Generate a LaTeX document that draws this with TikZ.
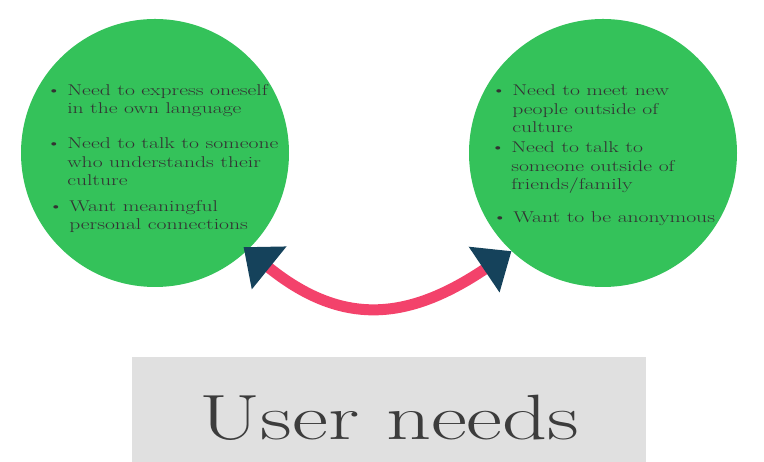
\documentclass[tikz,border=0pt]{standalone}
\usepackage{fontspec}
\usetikzlibrary{arrows.meta}
\definecolor{cgreen}{HTML}{34C25A}
\definecolor{cpink}{HTML}{F3426B}
\definecolor{cnavy}{HTML}{15425B}
\definecolor{cgray}{HTML}{E0E0E0}
\definecolor{ctext}{HTML}{333333}
\definecolor{ctitle}{HTML}{3C3C3C}
\newcommand\itembul{\llap{\textbullet\hspace{4pt}}}
\begin{document}
\begin{tikzpicture}[x=1pt,y=1pt,
  need/.style={circle, fill=cgreen, minimum size=268pt, inner sep=0pt},
  item/.style={anchor=base west, align=left, inner sep=0pt, xscale=1.385, text=ctext, font=\fontsize{15.6}{18.7}\selectfont},
  link/.style={cpink, line width=11pt, {Triangle[length=33pt,width=53pt,color=cnavy]}-{Triangle[length=33pt,width=53pt,color=cnavy]}},
]
\useasboundingbox (0,0) rectangle (764,462);
\node[need] (L) at (155,309) {};
\node[need] (R) at (603,309) {};
\node[item] (l1) at (67,348) {\itembul Need to express oneself\\in the own language};
\node[item] (l2) at (67,276) {\itembul Need to talk to someone\\who understands their\\culture};
\node[item] (l3) at (69,232) {\itembul Want meaningful\\personal connections};
\node[item] (r1) at (512,329) {\itembul Need to meet new\\people outside of\\culture};
\node[item] (r2) at (511,272) {\itembul Need to talk to\\someone outside of\\friends/family};
\node[item] (r3) at (513,239) {\itembul Want to be anonymous};
\coordinate (lt) at ([shift={(-3,4)}]L.-47);
\coordinate (rt) at (R.-133);
\draw[link] (lt) to[out=-39,in=-146,looseness=1.2] (rt);
\node[fill=cgray, minimum width=514pt, minimum height=105pt, inner sep=0pt] (box) at (389,52.5) {};
\node[anchor=base, inner sep=0pt, xscale=1.378, text=ctitle, font=\fontsize{64}{64}\selectfont] (title) at (389.5,22) {User needs};
\end{tikzpicture}
\end{document}
